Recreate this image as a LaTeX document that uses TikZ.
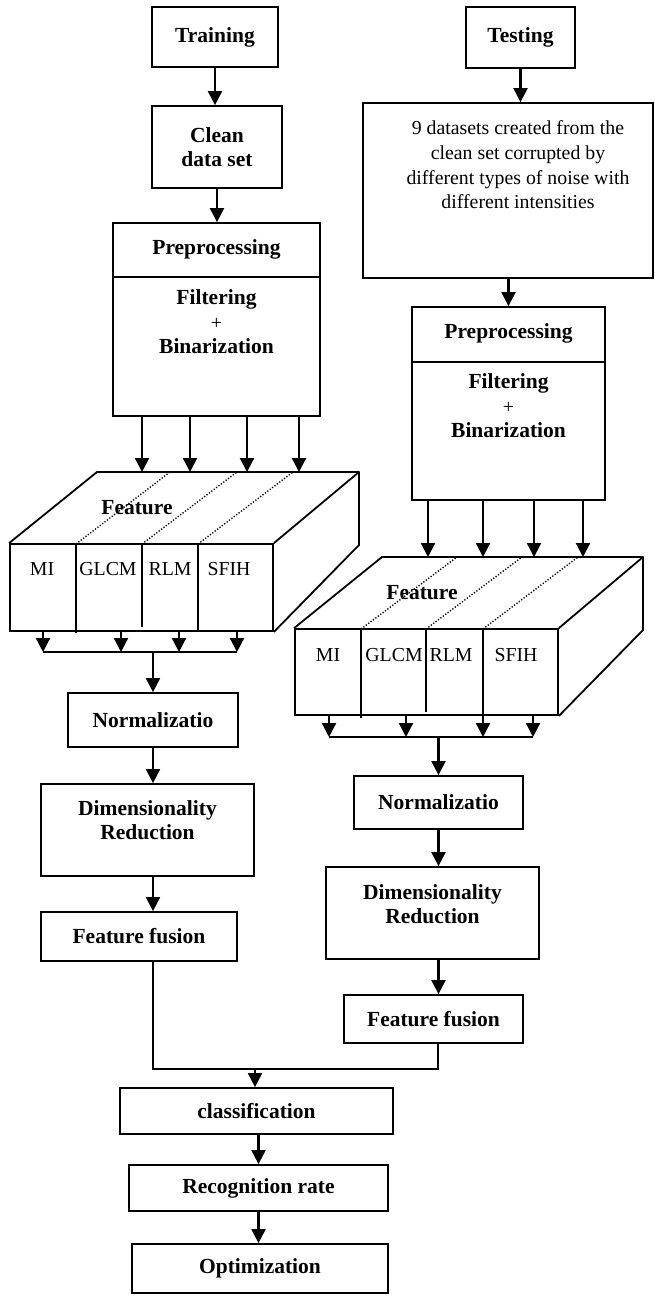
\documentclass[tikz,border=0pt]{standalone}
\usepackage{fontspec}
\setmainfont{Liberation Serif}
\usetikzlibrary{arrows.meta}
\newcommand{\bfsz}{\fontsize{21.5}{24.5}\bfseries\selectfont}
\newcommand{\rgsz}{\fontsize{19.8}{24.7}\mdseries\selectfont}
\begin{document}
\begin{tikzpicture}[x=1pt,y=-1pt,
  box/.style={draw, line width=1.8pt, inner sep=0pt, font=\bfsz, align=center},
  arr/.style={-{Triangle[width=14pt,length=14pt]}, line width=2.2pt},
  ln/.style={line width=1.8pt},
  thin line/.style={line width=1.3pt},
  dots/.style={line width=1.4pt, dash pattern=on 1.2pt off 1.8pt},
  lbl/.style={inner sep=0pt, font=\rgsz},
  btxt/.style={inner sep=0pt, font=\bfsz, align=center}
]
\useasboundingbox (0,0) rectangle (654,1296);

% ---------- left column ----------
\node[box, minimum width=126, minimum height=60] (train) at (215,37) {Training};
\node[box, minimum width=130, minimum height=82] (clean) at (217,147) {Clean\\data set};
\draw[arr] (train.south) -- (train.south |- clean.north);
\node[box, minimum width=207, minimum height=193] (preL) at (216.5,319.5) {};
\draw[arr] (clean.south) -- (clean.south |- preL.north);
\draw[ln] (113,277) -- (320,277);
\node[btxt] (preLt) at (216.5,249) {Preprocessing};
\node[btxt] (preLf) at (216.5,322) {Filtering\\{\rgsz +}\\Binarization};

% left cuboid
\node[draw, line width=1.8pt, minimum width=263, minimum height=87, inner sep=0pt] (fL) at (141.5,587.5) {};
\coordinate (bLa) at (97,472);
\coordinate (bLb) at (359,472);
\coordinate (bLc) at (359,545);
\draw[ln, line join=round] (fL.north west) -- (bLa) -- (bLb) -- (fL.north east);
\draw[ln] (bLb) -- (bLc) -- (fL.south east);
\draw[ln] (76,544) -- (76,633);
\draw[ln] (142,544) -- (142,627);
\draw[ln] (198,544) -- (198,631);
\draw[dots] (76,544) -- (170,472);
\draw[dots] (142,544) -- (237,472);
\draw[dots] (198,544) -- (293,472);
\node[btxt] (featL) at (137,508) {Feature};
\node[lbl] (miL) at (42,569) {MI};
\node[lbl] (glL) at (108,569) {GLCM};
\node[lbl] (rlL) at (170,569) {RLM};
\node[lbl] (sfL) at (229,569) {SFIH};

\foreach \i/\x in {1/142,2/190,3/247,4/299}{
  \coordinate (tL\i) at (\x,472);
  \draw[arr] (preL.south -| tL\i) -- (tL\i);
}
\foreach \i/\x in {1/43,2/121,3/179,4/237}{
  \coordinate (bL\i) at (\x,652);
  \draw[arr] (fL.south -| bL\i) -- (bL\i);
}
\draw[ln] (bL1) -- (bL4);

\node[box, minimum width=170, minimum height=54] (normL) at (153,720) {Normalizatio};
\coordinate (busL) at (153,652);
\draw[arr] (busL) -- (normL.north);
\node[box, minimum width=213, minimum height=92] (dimL) at (147.5,830) {};
\node[btxt] (dimLt) at (147.5,820) {Dimensionality\\Reduction};
\draw[arr] (normL.south) -- (normL.south |- dimL.north);
\node[box, minimum width=196, minimum height=49] (ffL) at (139,936.5) {Feature fusion};
\draw[arr] (dimL.south -| normL) -- (ffL.north -| normL);

% ---------- right column ----------
\node[box, minimum width=109, minimum height=61] (test) at (520.5,37.5) {Testing};
\node[box, minimum width=290, minimum height=175] (big) at (508,190.5) {};
\node[inner sep=0pt, align=center, font=\rgsz] (bigt) at (518,165) {9 datasets created from the\\clean set corrupted by\\different types of noise with\\different intensities};
\draw[arr] (test.south) -- (test.south |- big.north);
\node[box, minimum width=193, minimum height=193] (preR) at (508.5,403.5) {};
\draw[ln] (412,362) -- (605,362);
\node[btxt] (preRt) at (508.5,333) {Preprocessing};
\node[btxt] (preRf) at (508.5,406) {Filtering\\{\rgsz +}\\Binarization};
\draw[arr] (big.south -| preR) -- (preR.north);

% right cuboid
\node[draw, line width=1.8pt, minimum width=263, minimum height=86, inner sep=0pt] (fR) at (426.5,672) {};
\coordinate (bRa) at (382,557);
\coordinate (bRb) at (643,557);
\coordinate (bRc) at (643,630);
\draw[ln, line join=round] (fR.north west) -- (bRa) -- (bRb) -- (fR.north east);
\draw[ln] (bRb) -- (bRc) -- (fR.south east);
\draw[ln] (361,629) -- (361,718);
\draw[ln] (426,629) -- (426,712);
\draw[ln] (483,629) -- (483,715);
\draw[dots] (361,629) -- (457,557);
\draw[dots] (426,629) -- (522,557);
\draw[dots] (483,629) -- (578,557);
\node[btxt] (featR) at (422,593) {Feature};
\node[lbl] (miR) at (328,655) {MI};
\node[lbl] (glR) at (394,655) {GLCM};
\node[lbl] (rlR) at (451,655) {RLM};
\node[lbl] (sfR) at (516,655) {SFIH};

\foreach \i/\x in {1/428,2/483,3/534,4/583}{
  \coordinate (tR\i) at (\x,557);
  \draw[arr] (preR.south -| tR\i) -- (tR\i);
}
\foreach \i/\x in {1/329,2/406,3/483,4/533}{
  \coordinate (bR\i) at (\x,737);
  \draw[arr] (fR.south -| bR\i) -- (bR\i);
}
\draw[ln] (bR1) -- (bR4);

\node[box, minimum width=169, minimum height=53] (normR) at (438.5,802.5) {Normalizatio};
\coordinate (busR) at (438.5,737);
\draw[arr] (busR) -- (normR.north);
\node[box, minimum width=213, minimum height=92] (dimR) at (432.5,913) {};
\node[btxt] (dimRt) at (432.5,904) {Dimensionality\\Reduction};
\draw[arr] (normR.south) -- (normR.south |- dimR.north);
\node[box, minimum width=179, minimum height=48] (ffR) at (433.5,1019) {Feature fusion};
\draw[arr] (dimR.south -| normR) -- (ffR.north -| normR);

% ---------- merge ----------
\coordinate (jL) at (153,1069);
\coordinate (jR) at (438,1069);
\coordinate (jM) at (255,1069);
\draw[thin line] (ffL.south -| jL) -- (jL) -- (jR) -- (ffR.south -| jR);

\node[box, minimum width=273, minimum height=46] (cls) at (256.5,1111) {classification};
\draw[arr] (jM) -- (cls.north -| jM);
\node[box, minimum width=259, minimum height=46] (rec) at (258.5,1188) {Recognition rate};
\draw[arr] (cls.south -| rec) -- (rec.north);
\node[box, minimum width=256, minimum height=49] (opt) at (260,1268.5) {Optimization};
\draw[arr] (rec.south) -- (rec.south |- opt.north);
\end{tikzpicture}
\end{document}
